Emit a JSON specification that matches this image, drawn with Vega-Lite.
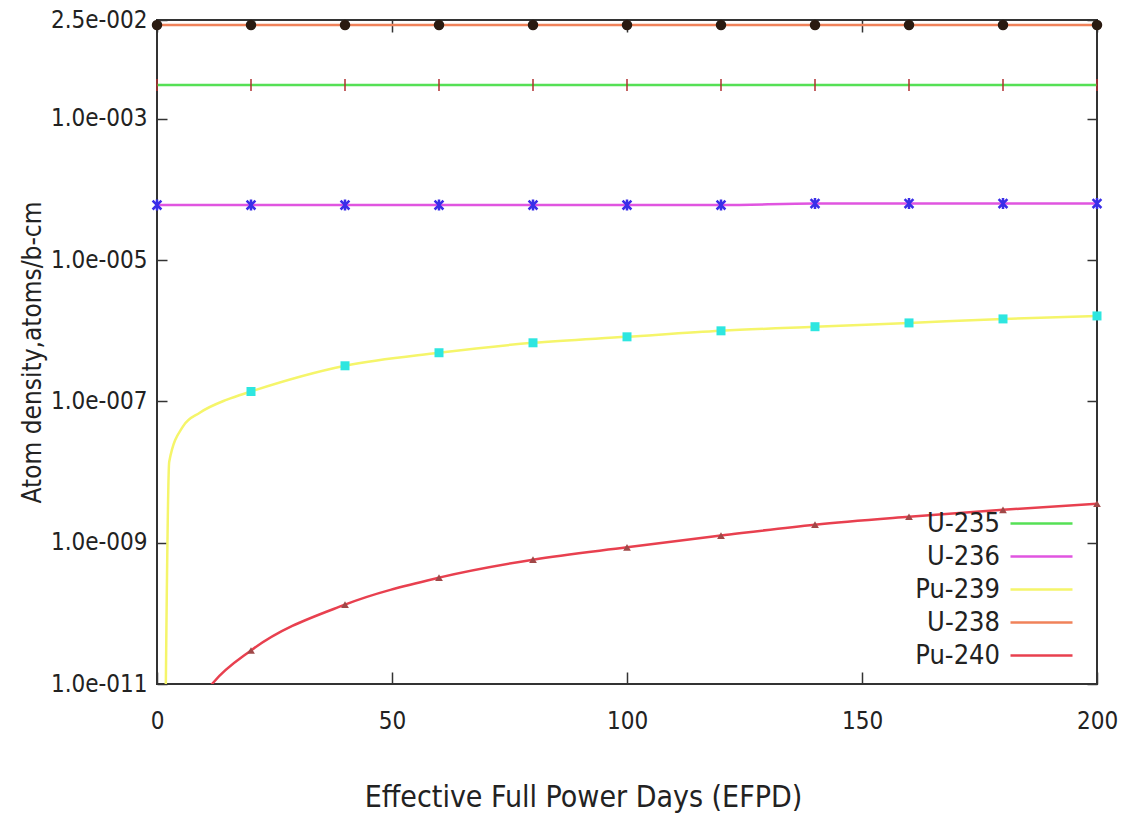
{
  "$schema": "https://vega.github.io/schema/vega-lite/v6.json",
  "width": 940,
  "height": 664,
  "autosize": {"type": "none"},
  "padding": {"left": 157, "top": 20, "right": 28, "bottom": 136},
  "background": "white",
  "config": {
    "view": {"stroke": "#333333", "strokeWidth": 2},
    "font": "Liberation Sans Narrow, DejaVu Sans Condensed, Roboto Condensed, Liberation Sans, sans-serif"
  },
  "data": {
    "values": [
      {"series": "U-235", "day": 0, "density": 0.003, "marker": 1},
      {"series": "U-235", "day": 20, "density": 0.003, "marker": 1},
      {"series": "U-235", "day": 40, "density": 0.003, "marker": 1},
      {"series": "U-235", "day": 60, "density": 0.003, "marker": 1},
      {"series": "U-235", "day": 80, "density": 0.003, "marker": 1},
      {"series": "U-235", "day": 100, "density": 0.003, "marker": 1},
      {"series": "U-235", "day": 120, "density": 0.003, "marker": 1},
      {"series": "U-235", "day": 140, "density": 0.003, "marker": 1},
      {"series": "U-235", "day": 160, "density": 0.003, "marker": 1},
      {"series": "U-235", "day": 180, "density": 0.003, "marker": 1},
      {"series": "U-235", "day": 200, "density": 0.003, "marker": 1},
      {"series": "U-236", "day": 0, "density": 0.00006, "marker": 1},
      {"series": "U-236", "day": 20, "density": 0.00006, "marker": 1},
      {"series": "U-236", "day": 40, "density": 0.00006, "marker": 1},
      {"series": "U-236", "day": 60, "density": 0.00006, "marker": 1},
      {"series": "U-236", "day": 80, "density": 0.00006, "marker": 1},
      {"series": "U-236", "day": 100, "density": 0.00006, "marker": 1},
      {"series": "U-236", "day": 120, "density": 0.00006, "marker": 1},
      {"series": "U-236", "day": 140, "density": 0.000063, "marker": 1},
      {"series": "U-236", "day": 160, "density": 0.000063, "marker": 1},
      {"series": "U-236", "day": 180, "density": 0.000063, "marker": 1},
      {"series": "U-236", "day": 200, "density": 0.000063, "marker": 1},
      {"series": "Pu-239", "day": 1.6, "density": 1e-13, "marker": 0},
      {"series": "Pu-239", "day": 2.6, "density": 1.4e-8, "marker": 0},
      {"series": "Pu-239", "day": 5.5, "density": 4.4e-8, "marker": 0},
      {"series": "Pu-239", "day": 9.1, "density": 6.9e-8, "marker": 0},
      {"series": "Pu-239", "day": 14.9, "density": 1.06e-7, "marker": 0},
      {"series": "Pu-239", "day": 20, "density": 1.38e-7, "marker": 1},
      {"series": "Pu-239", "day": 40, "density": 3.19e-7, "marker": 1},
      {"series": "Pu-239", "day": 60, "density": 4.88e-7, "marker": 1},
      {"series": "Pu-239", "day": 80, "density": 6.75e-7, "marker": 1},
      {"series": "Pu-239", "day": 100, "density": 8.2e-7, "marker": 1},
      {"series": "Pu-239", "day": 120, "density": 9.97e-7, "marker": 1},
      {"series": "Pu-239", "day": 140, "density": 1.14e-6, "marker": 1},
      {"series": "Pu-239", "day": 160, "density": 1.29e-6, "marker": 1},
      {"series": "Pu-239", "day": 180, "density": 1.47e-6, "marker": 1},
      {"series": "Pu-239", "day": 200, "density": 1.62e-6, "marker": 1},
      {"series": "U-238", "day": 0, "density": 0.0212, "marker": 1},
      {"series": "U-238", "day": 20, "density": 0.0212, "marker": 1},
      {"series": "U-238", "day": 40, "density": 0.0212, "marker": 1},
      {"series": "U-238", "day": 60, "density": 0.0212, "marker": 1},
      {"series": "U-238", "day": 80, "density": 0.0212, "marker": 1},
      {"series": "U-238", "day": 100, "density": 0.0212, "marker": 1},
      {"series": "U-238", "day": 120, "density": 0.0212, "marker": 1},
      {"series": "U-238", "day": 140, "density": 0.0212, "marker": 1},
      {"series": "U-238", "day": 160, "density": 0.0212, "marker": 1},
      {"series": "U-238", "day": 180, "density": 0.0212, "marker": 1},
      {"series": "U-238", "day": 200, "density": 0.0212, "marker": 1},
      {"series": "Pu-240", "day": 8, "density": 4.5e-12, "marker": 0},
      {"series": "Pu-240", "day": 12, "density": 1.05e-11, "marker": 0},
      {"series": "Pu-240", "day": 20, "density": 2.98e-11, "marker": 1},
      {"series": "Pu-240", "day": 40, "density": 1.33e-10, "marker": 1},
      {"series": "Pu-240", "day": 60, "density": 3.2e-10, "marker": 1},
      {"series": "Pu-240", "day": 80, "density": 5.75e-10, "marker": 1},
      {"series": "Pu-240", "day": 100, "density": 8.6e-10, "marker": 1},
      {"series": "Pu-240", "day": 120, "density": 1.26e-9, "marker": 1},
      {"series": "Pu-240", "day": 140, "density": 1.8e-9, "marker": 1},
      {"series": "Pu-240", "day": 160, "density": 2.33e-9, "marker": 1},
      {"series": "Pu-240", "day": 180, "density": 2.92e-9, "marker": 1},
      {"series": "Pu-240", "day": 200, "density": 3.56e-9, "marker": 1}
    ]
  },
  "layer": [
    {
      "mark": {"type": "line", "interpolate": "monotone", "strokeWidth": 2.5, "clip": true},
      "encoding": {
        "x": {
          "field": "day", "type": "quantitative",
          "scale": {"domain": [0, 200], "nice": false, "zero": false},
          "axis": {
            "orient": "bottom", "values": [0, 50, 100, 150, 200], "grid": false, "domain": false,
            "tickSize": -12, "tickWidth": 1.5, "tickColor": "#333333", "labelFlush": false,
            "labelFontSize": 24, "labelColor": "#222222", "labelPadding": 37,
            "title": "Effective Full Power Days (EFPD)", "titleFontSize": 30, "titleFontWeight": "normal",
            "titleColor": "#222222", "titleX": 426, "titleY": 113, "titleBaseline": "middle", "titleAlign": "center"
          }
        },
        "y": {
          "field": "density", "type": "quantitative",
          "scale": {"type": "log", "domain": [1e-11, 0.025], "nice": false},
          "axis": {
            "orient": "left", "values": [1e-11, 1e-9, 1e-7, 1e-5, 0.001, 0.025], "grid": false, "domain": false,
            "tickSize": -10, "tickWidth": 1.5, "tickColor": "#333333", "labelFlush": false,
            "labelFontSize": 24, "labelColor": "#222222", "labelPadding": 20,
            "labelExpr": "datum.value < 2e-11 ? '1.0e-011' : datum.value < 2e-9 ? '1.0e-009' : datum.value < 2e-7 ? '1.0e-007' : datum.value < 2e-5 ? '1.0e-005' : datum.value < 0.002 ? '1.0e-003' : '2.5e-002'",
            "title": "Atom density,atoms/b-cm", "titleFontSize": 26, "titleFontWeight": "normal",
            "titleColor": "#222222", "titleX": -125, "titleY": 332, "titleAngle": -90, "titleBaseline": "middle", "titleAlign": "center"
          }
        },
        "color": {
          "field": "series", "type": "nominal",
          "scale": {
            "domain": ["U-235", "U-236", "Pu-239", "U-238", "Pu-240"],
            "range": ["#55e055", "#e055e0", "#f5f56a", "#f0825a", "#e8404f"]
          },
          "legend": {
            "orient": "none", "legendX": 871, "legendY": 490, "title": null, "padding": 0,
            "symbolType": "M-6.2,0L6.2,0", "symbolSize": 100, "symbolStrokeWidth": 2.5,
            "labelAlign": "right", "labelOffset": -55, "labelFontSize": 27, "labelColor": "#222222",
            "rowPadding": 5
          }
        }
      }
    },
    {
      "transform": [{"filter": "datum.series === 'U-238' && datum.marker === 1"}],
      "mark": {"type": "point", "shape": "circle", "filled": true, "color": "#2a1a10", "opacity": 1, "size": 110, "clip": false},
      "encoding": {
        "x": {"field": "day", "type": "quantitative", "axis": {"orient": "top", "values": [0, 50, 100, 150, 200], "labels": false, "title": null, "grid": false, "domain": false, "tickSize": -12, "tickWidth": 1.5, "tickColor": "#333333"}},
        "y": {"field": "density", "type": "quantitative", "axis": {"orient": "right", "values": [1e-11, 1e-9, 1e-7, 1e-5, 0.001, 0.025], "labels": false, "title": null, "grid": false, "domain": false, "tickSize": -10, "tickWidth": 1.5, "tickColor": "#333333"}}
      }
    },
    {
      "transform": [{"filter": "datum.series === 'U-235' && datum.marker === 1"}],
      "mark": {"type": "point", "shape": "M0,-1L0,1", "filled": false, "stroke": "#b03030", "strokeWidth": 1.5, "opacity": 1, "size": 144, "clip": false},
      "encoding": {
        "x": {"field": "day", "type": "quantitative", "axis": null},
        "y": {"field": "density", "type": "quantitative", "axis": null}
      }
    },
    {
      "transform": [{"filter": "datum.series === 'U-236' && datum.marker === 1"}],
      "mark": {"type": "point", "shape": "M0,-1L0,1M-0.8,-0.8L0.8,0.8M-0.8,0.8L0.8,-0.8", "filled": false, "stroke": "#3a2ee8", "strokeWidth": 2.5, "opacity": 1, "size": 121, "clip": false},
      "encoding": {
        "x": {"field": "day", "type": "quantitative", "axis": null},
        "y": {"field": "density", "type": "quantitative", "axis": null}
      }
    },
    {
      "transform": [{"filter": "datum.series === 'Pu-239' && datum.marker === 1"}],
      "mark": {"type": "point", "shape": "square", "filled": true, "color": "#2ee6e0", "opacity": 1, "size": 81, "clip": false},
      "encoding": {
        "x": {"field": "day", "type": "quantitative", "axis": null},
        "y": {"field": "density", "type": "quantitative", "axis": null}
      }
    },
    {
      "transform": [{"filter": "datum.series === 'Pu-240' && datum.marker === 1"}],
      "mark": {"type": "point", "shape": "triangle-up", "filled": true, "color": "#a04848", "opacity": 1, "size": 60, "clip": false},
      "encoding": {
        "x": {"field": "day", "type": "quantitative", "axis": null},
        "y": {"field": "density", "type": "quantitative", "axis": null}
      }
    }
  ],
  "resolve": {"axis": {"x": "independent", "y": "independent"}}
}
